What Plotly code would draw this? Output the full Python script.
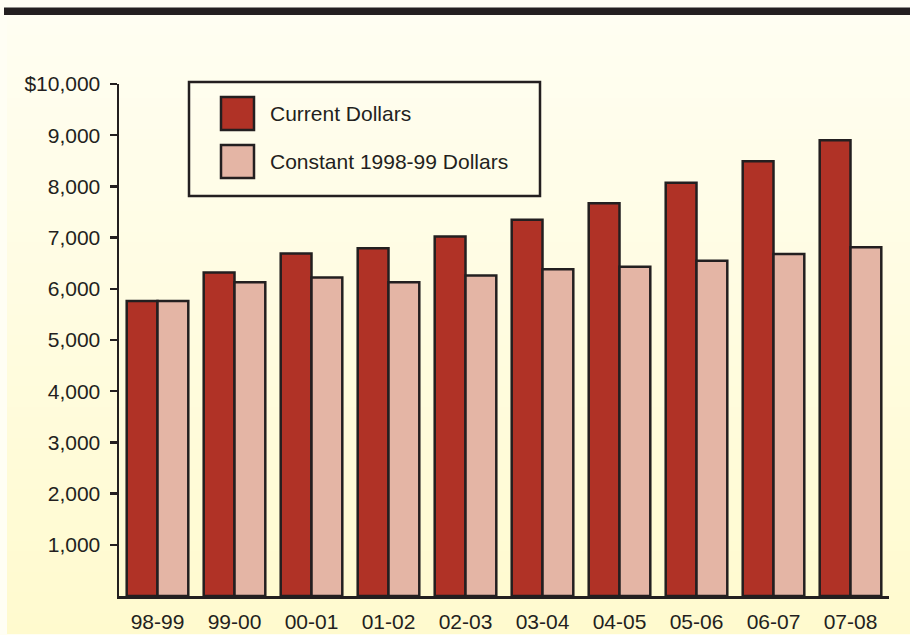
import plotly.graph_objects as go

categories = ["98-99", "99-00", "00-01", "01-02", "02-03", "03-04", "04-05", "05-06", "06-07", "07-08"]
current_dollars = [5760, 6320, 6690, 6790, 7020, 7350, 7670, 8070, 8490, 8900]
constant_dollars = [5760, 6130, 6220, 6130, 6260, 6380, 6430, 6550, 6680, 6810]
series_names = ["Current Dollars", "Constant 1998-99 Dollars"]
ytick_vals = [1000, 2000, 3000, 4000, 5000, 6000, 7000, 8000, 9000, 10000]
ytick_text = ["1,000", "2,000", "3,000", "4,000", "5,000", "6,000", "7,000", "8,000", "9,000", "$10,000"]

W, H = 910, 635
L, T = 119, 84
R = W - 889
B = H - 596
PW, PH = W - L - R, H - T - B

DARK = "#231f20"
RED = "#b03226"
PINK = "#e4b5a5"
FONT = "Liberation Sans, Arial, sans-serif"


def px(x, y):
    """page pixel -> paper coords"""
    return (x - L) / PW, (H - B - y) / PH


fig = go.Figure()
fig.add_trace(go.Bar(x=categories, y=current_dollars, name=series_names[0],
                     marker=dict(color=RED, line=dict(color=DARK, width=2.5))))
fig.add_trace(go.Bar(x=categories, y=constant_dollars, name=series_names[1],
                     marker=dict(color=PINK, line=dict(color=DARK, width=2.5))))

shapes = []
# background gradient
top_c = (255, 254, 242)
bot_c = (255, 250, 206)
y0, y1 = 15, 634
n = 60
for i in range(n):
    ya = y0 + (y1 - y0) * i / n
    yb = y0 + (y1 - y0) * (i + 1) / n
    t = (i + 0.5) / n
    c = tuple(round(top_c[k] + (bot_c[k] - top_c[k]) * t) for k in range(3))
    xa, pya = px(7, ya)
    xb, pyb = px(W + 5, min(yb + 1, y1))
    shapes.append(dict(type="rect", xref="paper", yref="paper", x0=xa, x1=xb, y0=pya, y1=pyb,
                       fillcolor="rgb(%d,%d,%d)" % c, line=dict(width=0), layer="below"))
# top black band
xa, ya = px(4, 7.5)
xb, yb = px(W + 5, 15)
shapes.append(dict(type="rect", xref="paper", yref="paper", x0=xa, x1=xb, y0=ya, y1=yb,
                   fillcolor=DARK, line=dict(width=0), layer="above"))
# legend box
xa, ya = px(189, 82)
xb, yb = px(540, 196)
shapes.append(dict(type="rect", xref="paper", yref="paper", x0=xa, x1=xb, y0=ya, y1=yb,
                   fillcolor="rgba(0,0,0,0)", line=dict(color=DARK, width=2.5), layer="above"))
annotations = []
for (sy, col, name) in [(97, RED, series_names[0]), (145, PINK, series_names[1])]:
    xa, ya = px(221, sy)
    xb, yb = px(254, sy + 33)
    shapes.append(dict(type="rect", xref="paper", yref="paper", x0=xa, x1=xb, y0=ya, y1=yb,
                       fillcolor=col, line=dict(color=DARK, width=2.5), layer="above"))
    ax, ay = px(268, sy + 16.5)
    annotations.append(dict(x=ax, y=ay, xref="paper", yref="paper", text=name, showarrow=False,
                            xanchor="left", yanchor="middle", font=dict(size=21, color=DARK, family=FONT)))

fig.update_layout(
    width=W, height=H,
    margin=dict(l=L, r=R, t=T, b=B, pad=0, autoexpand=False),
    paper_bgcolor="rgb(255,254,244)",
    plot_bgcolor="rgba(0,0,0,0)",
    barmode="group",
    bargap=0.2,
    bargroupgap=0,
    showlegend=False,
    font=dict(family=FONT, size=21, color=DARK),
    shapes=shapes,
    annotations=annotations,
    xaxis=dict(type="category", range=[-0.5, 9.5], showline=True, linecolor=DARK, linewidth=2.5,
               ticks="outside", ticklen=0, tickcolor="rgba(0,0,0,0)", ticklabelstandoff=5,
               showgrid=False, zeroline=False, automargin=False,
               tickfont=dict(size=21, color=DARK, family=FONT)),
    yaxis=dict(range=[0, 10000], showline=True, linecolor=DARK, linewidth=2.5,
               ticks="outside", ticklen=7, tickwidth=2.5, tickcolor=DARK,
               tickvals=ytick_vals, ticktext=ytick_text, ticklabelstandoff=5,
               showgrid=False, zeroline=False, automargin=False,
               tickfont=dict(size=21, color=DARK, family=FONT)),
)

fig.write_html("out.html",
               config={"displayModeBar": False, "staticPlot": True},
               post_script="document.body.style.margin='0';document.body.style.overflow='hidden';")
